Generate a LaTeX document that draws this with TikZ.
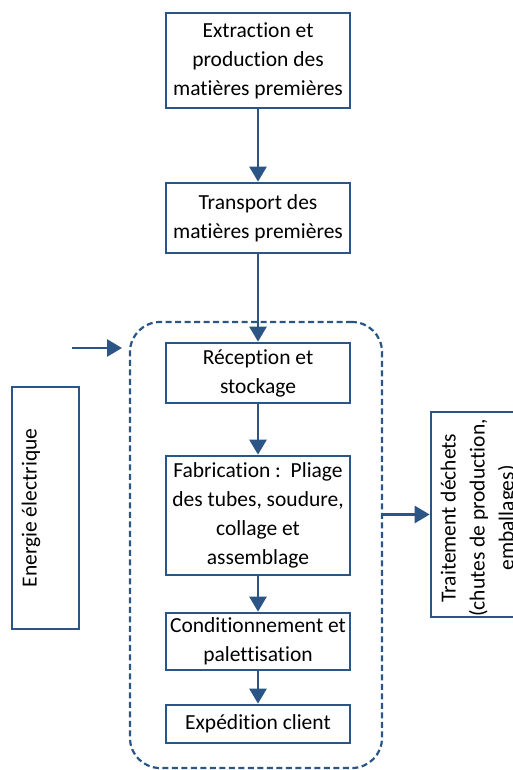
\documentclass[tikz,border=0pt]{standalone}
\usepackage{fontspec}
\setmainfont{Carlito}[RawFeature={-liga;-clig;-calt;-dlig}]
\usetikzlibrary{arrows.meta}
\definecolor{dblue}{HTML}{2A5585}
\begin{document}
\begin{tikzpicture}[x=1pt,y=-1pt,
  stepbox/.style={draw=dblue,line width=2.7pt,rectangle,inner sep=0pt,
    minimum width=184pt,align=center,font=\fontsize{21.5}{29}\selectfont},
  flow/.style={draw=dblue,line width=2.7pt,-{Triangle[width=17pt,length=15pt]}},
  txt/.style={font=\fontsize{21.5}{29}\selectfont,align=center,inner sep=0pt}]
\useasboundingbox (0,0) rectangle (513,770);
\node[stepbox,minimum height=95pt] (b1) at (258,60.5) {Extraction et\\production des\\matières premières};
\node[stepbox,minimum height=70pt] (b2) at (258,218) {Transport des\\matières premières};
\node[draw=dblue,line width=2.2pt,dash pattern=on 6pt off 3.5pt,rounded corners=30pt,
  minimum width=252pt,minimum height=446pt,inner sep=0pt] (dash) at (256,545) {};
\node[stepbox,minimum height=60pt] (b3) at (258,373) {Réception et\\stockage};
\node[stepbox,minimum height=119pt] (b4) at (258,515.5) {Fabrication :\ \ Pliage\\des tubes, soudure,\\collage et\\assemblage};
\node[stepbox,minimum height=57pt] (b5) at (258,641.5) {Conditionnement et\\palettisation};
\node[stepbox,minimum height=38pt] (b6) at (258,724) {Expédition client};
\node[draw=dblue,line width=2.7pt,minimum width=67pt,minimum height=242pt,inner sep=0pt] (en) at (45.5,508) {};
\node[txt,rotate=90] (entext) at (31,508) {Energie électrique};
\node[draw=dblue,line width=2.7pt,minimum width=101pt,minimum height=205pt,inner sep=0pt] (tr) at (481.5,514.5) {};
\node[txt,rotate=90] (trtext) at (479,518) {Traitement déchets\\(chutes de production,\\emballages)};
\coordinate (ein) at (72,348);
\coordinate (eout) at (122,348);
\draw[flow] (b1) -- (b2);
\draw[flow] (b2) -- (b3);
\draw[flow] (b3) -- (b4);
\draw[flow] (b4) -- (b5);
\draw[flow] (b5) -- (b6);
\draw[flow] (ein) -- (eout);
\draw[flow] (tr.west -| dash.east) -- (tr.west);
\end{tikzpicture}
\end{document}
